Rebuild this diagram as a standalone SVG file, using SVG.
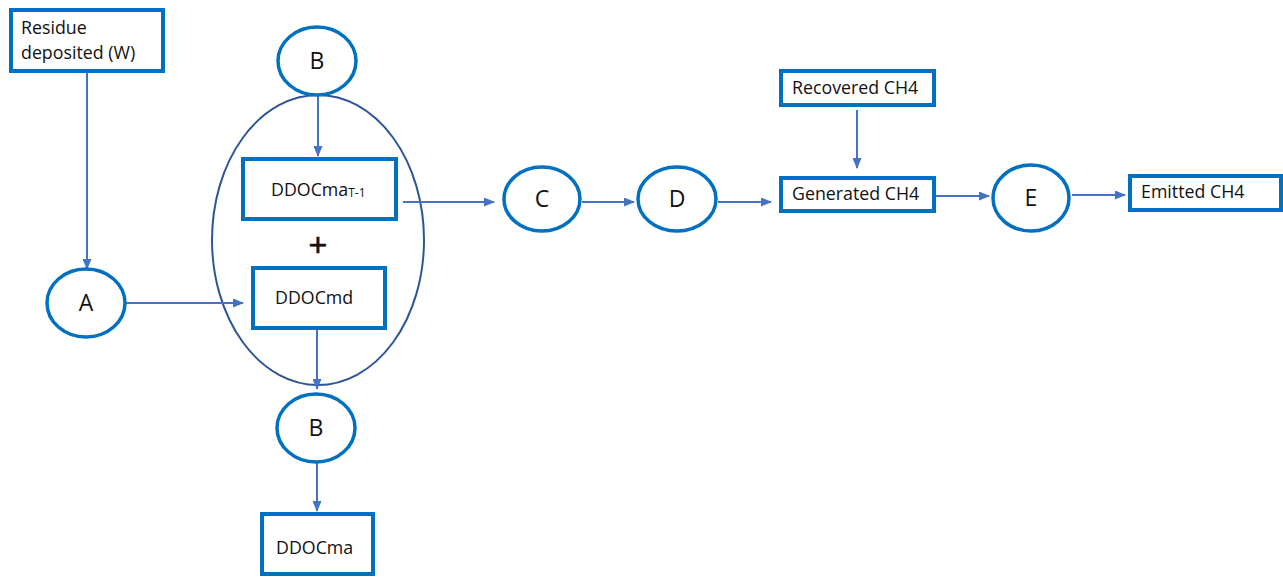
<svg xmlns="http://www.w3.org/2000/svg" width="1283" height="577" viewBox="0 0 1283 577">
<defs>
<marker id="ah" markerWidth="11" markerHeight="9" refX="10" refY="4.5" orient="auto" markerUnits="userSpaceOnUse">
<path d="M0,0 L11,4.5 L0,9 z" fill="#4472C4"/>
</marker>
<style>
.box{fill:#fff;stroke:#0070C0;stroke-width:4}
.circ{fill:#fff;stroke:#0070C0;stroke-width:3.5}
.big{fill:none;stroke:#2F5597;stroke-width:2}
.lbl{font-family:"Open Sans","Liberation Sans",sans-serif;font-size:17.8px;fill:#111}
.let{font-family:"Open Sans","Liberation Sans",sans-serif;font-size:23px;fill:#111;text-anchor:middle}
.plus{font-family:"Open Sans","Liberation Sans",sans-serif;font-size:33px;fill:#111;stroke:#111;stroke-width:0.7;text-anchor:middle}
.con{fill:none;stroke:#4472C4;stroke-width:2;marker-end:url(#ah)}
</style>
</defs>
<rect width="1283" height="577" fill="#fff"/>
<g id="group-big"><ellipse class="big" cx="318" cy="240" rx="106" ry="145"/></g>
<g id="connectors">
<line class="con" x1="87" y1="72" x2="87" y2="269"/>
<line class="con" x1="126" y1="303" x2="243" y2="303"/>
<line class="con" x1="318" y1="96" x2="318" y2="156"/>
<line class="con" x1="403" y1="202" x2="494" y2="202"/>
<line class="con" x1="317" y1="330" x2="317" y2="389"/>
<line class="con" x1="317" y1="463" x2="317" y2="511"/>
<line class="con" x1="582" y1="202" x2="634" y2="202"/>
<line class="con" x1="718" y1="202" x2="771" y2="202"/>
<line class="con" x1="857" y1="110" x2="857" y2="168"/>
<line class="con" x1="936" y1="196" x2="989" y2="196"/>
<line class="con" x1="1072" y1="195" x2="1125" y2="195"/>
</g>
<g id="residue"><rect class="box" x="11" y="10" width="152" height="61"/>
<text class="lbl" x="21" y="34">Residue</text><text class="lbl" x="21" y="59">deposited (W)</text></g>
<g id="nodeA"><ellipse class="circ" cx="86" cy="303" rx="39" ry="34"/><text class="let" x="86" y="311">A</text></g>
<g id="nodeB1"><ellipse class="circ" cx="317" cy="61" rx="39" ry="34"/><text class="let" x="317" y="69">B</text></g>
<g id="ddocmaT1"><rect class="box" x="243" y="159" width="153" height="60"/>
<text class="lbl" x="271" y="196">DDOCma<tspan font-size="12" dy="1">T-1</tspan></text></g>
<g id="plus"><text class="plus" x="318" y="257">+</text></g>
<g id="ddocmd"><rect class="box" x="253" y="268" width="132" height="60"/>
<text class="lbl" x="275" y="304">DDOCmd</text></g>
<g id="nodeB2"><ellipse class="circ" cx="316" cy="428" rx="39" ry="34"/><text class="let" x="316" y="436">B</text></g>
<g id="ddocma"><rect class="box" x="262" y="514" width="111" height="60"/>
<text class="lbl" x="276" y="554">DDOCma</text></g>
<g id="nodeC"><ellipse class="circ" cx="542" cy="199" rx="38" ry="32"/><text class="let" x="542" y="207">C</text></g>
<g id="nodeD"><ellipse class="circ" cx="677" cy="199" rx="39" ry="32"/><text class="let" x="677" y="207">D</text></g>
<g id="recovered"><rect class="box" x="781" y="71" width="153" height="34"/>
<text class="lbl" x="792" y="94">Recovered CH4</text></g>
<g id="generated"><rect class="box" x="781" y="178" width="153" height="33"/>
<text class="lbl" x="792" y="200">Generated CH4</text></g>
<g id="nodeE"><ellipse class="circ" cx="1031" cy="198" rx="38" ry="33"/><text class="let" x="1031" y="206">E</text></g>
<g id="emitted"><rect class="box" x="1130" y="176" width="151" height="34"/>
<text class="lbl" x="1141" y="198">Emitted CH4</text></g>
</svg>
